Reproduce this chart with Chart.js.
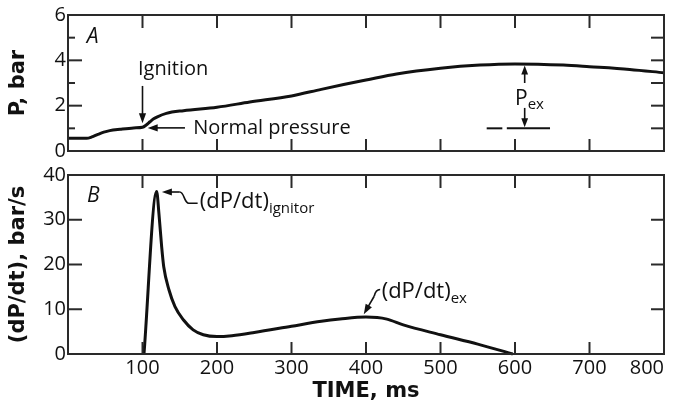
<!DOCTYPE html>
<html><head><meta charset="utf-8">
<script src="https://cdn.jsdelivr.net/npm/chart.js@4/dist/chart.umd.min.js"></script>
<style>
html,body{margin:0;padding:0;background:#fff;}
#wrap{position:relative;width:674px;height:408px;overflow:hidden;}
.box{position:absolute;left:0;}
</style></head><body>
<div id="wrap">
<div class="box" style="top:0;width:674px;height:165px"><canvas id="ca" width="674" height="165"></canvas></div>
<div class="box" style="top:160px;width:674px;height:248px"><canvas id="cb" width="674" height="248"></canvas></div>
</div>
<script>
// ---- data ----
const timeP = [0, 25, 32, 40, 48, 56, 70, 88, 100, 105, 110, 115, 120, 132, 155, 200, 244, 300, 340, 370, 400, 441, 500, 553, 600, 665, 700, 754, 800];
const pressure = [0.56, 0.56, 0.62, 0.73, 0.83, 0.9, 0.96, 1.02, 1.05, 1.15, 1.29, 1.42, 1.51, 1.66, 1.78, 1.93, 2.16, 2.43, 2.72, 2.93, 3.13, 3.4, 3.65, 3.79, 3.84, 3.79, 3.72, 3.6, 3.45];
const timeR = [102, 119, 122, 125.7, 128.5, 135.6, 143.6, 154.8, 168, 181.6, 200, 220, 250, 300, 340, 365, 400, 428, 450, 500, 550, 597];
const rate = [0, 36.3, 31.5, 24, 19.5, 14.3, 10.6, 7.65, 5.4, 4.3, 3.9, 4.1, 4.8, 6.2, 7.3, 7.8, 8.25, 7.8, 6.5, 4.3, 2.2, 0];
const timeTicks = [0, 100, 200, 300, 400, 500, 600, 700, 800];
const pTicks = [0, 2, 4, 6];
const rateTicks = [0, 10, 20, 30, 40];

const FONT = "'Open Sans', 'DejaVu Sans', sans-serif";
const BOLD = "'DejaVu Sans', 'Open Sans', sans-serif";
const INK = '#111';

function drawArrow(ctx, x1, y1, x2, y2, head, w) {
  head = head || 10; w = w || 3.6;
  const a = Math.atan2(y2 - y1, x2 - x1), c = Math.cos(a), s = Math.sin(a);
  ctx.beginPath(); ctx.moveTo(x1, y1); ctx.lineTo(x2 - c * head * 0.7, y2 - s * head * 0.7); ctx.stroke();
  ctx.beginPath(); ctx.moveTo(x2, y2);
  ctx.lineTo(x2 - head * c + w * s, y2 - head * s - w * c);
  ctx.lineTo(x2 - head * c - w * s, y2 - head * s + w * c);
  ctx.closePath(); ctx.fill();
}
function subText(ctx, x, y, main, sub, size, subSize) {
  ctx.textAlign = 'left'; ctx.textBaseline = 'middle';
  ctx.font = size + 'px ' + FONT;
  ctx.fillText(main, x, y);
  const w = ctx.measureText(main).width;
  ctx.font = subSize + 'px ' + FONT;
  ctx.fillText(sub, x + w, y + size * 0.3);
}

const framePlugin = {
  id: 'frame',
  afterDatasetsDraw(chart, args, o) {
    const {ctx, chartArea: a, scales: {x, y}} = chart;
    ctx.save();
    ctx.strokeStyle = '#2a2a2a'; ctx.lineWidth = 2; ctx.lineCap = 'butt';
    ctx.strokeRect(a.left, a.top, a.right - a.left, a.bottom - a.top);
    const seg = (x1, y1, x2, y2) => { ctx.beginPath(); ctx.moveTo(x1, y1); ctx.lineTo(x2, y2); ctx.stroke(); };
    o.xMarks.forEach(v => { const p = x.getPixelForValue(v); seg(p, a.bottom, p, a.bottom - 12); seg(p, a.top, p, a.top + 13); });
    o.yLeft.forEach(m => { const p = y.getPixelForValue(m[0]); seg(a.left, p, a.left + m[1], p); });
    o.yRight.forEach(v => { const p = y.getPixelForValue(v); seg(a.right, p, a.right - 13, p); });
    ctx.restore();
  }
};

function baseOptions(pad) {
  return {
    responsive: false, animation: false, devicePixelRatio: 1,
    layout: {padding: pad},
    elements: {point: {radius: 0}}
  };
}
function yScale(min, max, ticksArr, title) {
  return {
    type: 'linear', min: min, max: max,
    afterBuildTicks: s => { s.ticks = ticksArr.map(v => ({value: v})); },
    ticks: {font: {family: FONT, size: 20}, color: INK, padding: 2},
    grid: {display: false, drawTicks: false}, border: {display: false},
    title: {display: true, text: title, color: INK, font: {family: BOLD, size: 21, weight: 'bold'}, padding: {top: 6, bottom: 0}},
    afterFit: s => { s.width = 68; }
  };
}

// ---- Panel A ----
const annA = {
  id: 'annA',
  afterDraw(chart) {
    const {ctx, scales: {x, y}} = chart;
    const X = v => x.getPixelForValue(v), Y = v => y.getPixelForValue(v);
    ctx.save();
    ctx.fillStyle = INK; ctx.strokeStyle = INK; ctx.lineWidth = 1.6;
    ctx.font = 'italic 21px ' + FONT; ctx.textAlign = 'center'; ctx.textBaseline = 'middle';
    ctx.fillText('A', X(33), Y(5.05));
    ctx.font = '20px ' + FONT; ctx.textAlign = 'left';
    ctx.fillText('Ignition', X(94), Y(3.6));
    drawArrow(ctx, X(100), Y(2.87), X(100), Y(1.22));
    drawArrow(ctx, X(157), Y(1.02), X(107), Y(1.02));
    ctx.fillText('Normal pressure', X(168), Y(1.02));
    drawArrow(ctx, X(613), Y(3.0), X(613), Y(3.77), 9, 3.4);
    drawArrow(ctx, X(613), Y(1.9), X(613), Y(1.05), 9, 3.4);
    subText(ctx, X(600), Y(2.3), 'P', 'ex', 21, 15);
    ctx.lineWidth = 2;
    ctx.beginPath(); ctx.moveTo(X(562), Y(1.0)); ctx.lineTo(X(583), Y(1.0)); ctx.stroke();
    ctx.beginPath(); ctx.moveTo(X(589), Y(1.0)); ctx.lineTo(X(647), Y(1.0)); ctx.stroke();
    ctx.restore();
  }
};

new Chart(document.getElementById('ca'), {
  type: 'line',
  data: {datasets: [{data: timeP.map((t, i) => ({x: t, y: pressure[i]})), borderColor: INK, borderWidth: 3, cubicInterpolationMode: 'monotone', clip: false}]},
  options: Object.assign(baseOptions({left: 0, right: 10, top: 15, bottom: 14}), {
    scales: {
      x: {type: 'linear', min: 0, max: 800, display: false},
      y: yScale(0, 6, pTicks, 'P, bar')
    },
    plugins: {legend: {display: false}, tooltip: {enabled: false},
      frame: {xMarks: [100, 200, 300, 400, 500, 600, 700], yLeft: [[1, 7], [2, 14], [3, 7], [4, 14], [5, 7]], yRight: [1, 2, 3, 4, 5]}}
  }),
  plugins: [framePlugin, annA]
});

// ---- Panel B ----
const annB = {
  id: 'annB',
  afterDraw(chart) {
    const {ctx, scales: {x, y}} = chart;
    const X = v => x.getPixelForValue(v), Y = v => y.getPixelForValue(v);
    ctx.save();
    ctx.fillStyle = INK; ctx.strokeStyle = INK; ctx.lineWidth = 1.6;
    ctx.font = 'italic 21px ' + FONT; ctx.textAlign = 'center'; ctx.textBaseline = 'middle';
    ctx.fillText('B', X(34), Y(35.2));
    // ignitor leader
    drawArrow(ctx, X(150), Y(36.2), X(126), Y(36.2), 10, 3.6);
    ctx.beginPath(); ctx.moveTo(X(150), Y(36.2));
    ctx.bezierCurveTo(X(156), Y(36.2), X(156), Y(33.7), X(162), Y(33.7));
    ctx.lineTo(X(174), Y(33.7)); ctx.stroke();
    subText(ctx, X(177), Y(34), '(dP/dt)', 'ignitor', 22, 15);
    // ex leader
    ctx.beginPath(); ctx.moveTo(X(419), Y(14.4));
    ctx.quadraticCurveTo(X(413), Y(14.4), X(411), Y(12.9)); ctx.stroke();
    drawArrow(ctx, X(411), Y(12.9), X(397), Y(8.9), 10, 3.6);
    subText(ctx, X(421), Y(13.9), '(dP/dt)', 'ex', 22, 15);
    ctx.restore();
  }
};

new Chart(document.getElementById('cb'), {
  type: 'line',
  data: {datasets: [{data: timeR.map((t, i) => ({x: t, y: rate[i]})), borderColor: INK, borderWidth: 3, cubicInterpolationMode: 'monotone', clip: false}]},
  options: Object.assign(baseOptions({left: 0, right: 10, top: 15, bottom: 0}), {
    scales: {
      x: {
        type: 'linear', min: 0, max: 800,
        afterBuildTicks: s => { s.ticks = timeTicks.map(v => ({value: v})); },
        ticks: {font: {family: FONT, size: 20}, color: INK, padding: 2, align: 'inner', maxRotation: 0,
          callback: v => (v === 0 ? '' : String(v))},
        grid: {display: false, drawTicks: false}, border: {display: false},
        title: {display: true, text: 'TIME, ms', color: INK, font: {family: BOLD, size: 21, weight: 'bold'}, padding: {top: 0, bottom: 4}},
        afterFit: s => { s.height = 54; s.paddingLeft = 0; s.paddingRight = 0; }
      },
      y: yScale(0, 40, rateTicks, '(dP/dt), bar/s')
    },
    plugins: {legend: {display: false}, tooltip: {enabled: false},
      frame: {xMarks: [100, 200, 300, 400, 500, 600, 700], yLeft: [[10, 14], [20, 14], [30, 14]], yRight: [10, 20, 30]}}
  }),
  plugins: [framePlugin, annB]
});
</script>
</body></html>
